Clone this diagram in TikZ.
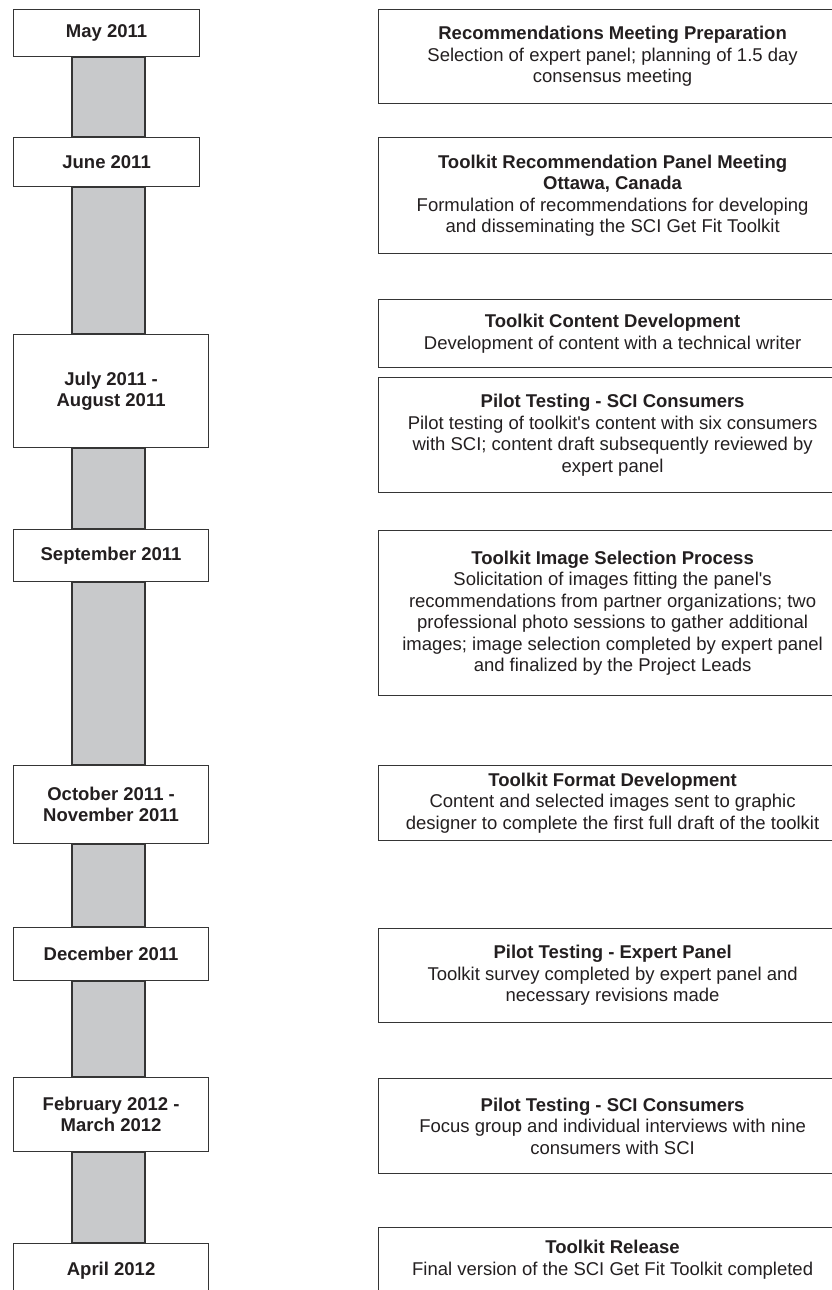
\documentclass[tikz,border=0pt]{standalone}
\usepackage{fontspec}
\setmainfont{Liberation Sans}
\usetikzlibrary{backgrounds}
\definecolor{boxline}{HTML}{353535}
\definecolor{barfill}{HTML}{C8C9CB}
\definecolor{ink}{HTML}{231F20}

\begin{document}
\begin{tikzpicture}[x=1pt,y=-1pt,
  datebox/.style={draw=boxline,line width=1.2pt,fill=white,anchor=north west,
    align=center,inner sep=0pt,text=ink,
    font=\fontsize{18.5}{21.5}\selectfont\bfseries},
  stepbox/.style={draw=boxline,line width=1.2pt,fill=white,anchor=north west,
    align=center,inner sep=0pt,minimum width=468pt,text=ink,
    font=\fontsize{18.5}{21.5}\selectfont},
  barseg/.style={draw=boxline,line width=1.2pt,fill=barfill}]
\useasboundingbox (0,0) rectangle (832,1290);
\clip (0,0) rectangle (832,1290);
\pgfmathsetmacro\barl{72}
\pgfmathsetmacro\barr{145}

% dates
\node[datebox,minimum width=186pt,minimum height=47pt] (may) at (13,9) {May 2011};
\node[datebox,minimum width=186pt,minimum height=49pt] (june) at (13,137) {June 2011};
\node[datebox,minimum width=195pt,minimum height=113pt] (julaug) at (13,334) {July 2011 -\\August 2011};
\node[datebox,minimum width=195pt,minimum height=52pt] (sept) at (13,529) {September 2011};
\node[datebox,minimum width=195pt,minimum height=78pt] (octnov) at (13,765) {October 2011 -\\November 2011};
\node[datebox,minimum width=195pt,minimum height=53pt] (dec) at (13,927) {December 2011};
\node[datebox,minimum width=195pt,minimum height=74pt] (febmar) at (13,1077) {February 2012 -\\March 2012};
\node[datebox,minimum width=195pt,minimum height=54pt] (april) at (13,1243) {April 2012};

% steps
\node[stepbox,minimum height=94pt] (prep) at (378,9)
  {\textbf{Recommendations Meeting Preparation}\\Selection of expert panel; planning of 1.5 day\\consensus meeting};
\node[stepbox,minimum height=116pt] (panel) at (378,137)
  {\textbf{Toolkit Recommendation Panel Meeting}\\\textbf{Ottawa, Canada}\\Formulation of recommendations for developing\\and disseminating the SCI Get Fit Toolkit};
\node[stepbox,minimum height=68pt] (content) at (378,299)
  {\textbf{Toolkit Content Development}\\Development of content with a technical writer};
\node[stepbox,minimum height=115pt] (pilotA) at (378,377)
  {\textbf{Pilot Testing - SCI Consumers}\\Pilot testing of toolkit\textquotesingle s content with six consumers\\with SCI; content draft subsequently reviewed by\\expert panel};
\node[stepbox,minimum height=165pt] (images) at (378,530)
  {\textbf{Toolkit Image Selection Process}\\Solicitation of images fitting the panel\textquotesingle s\\recommendations from partner organizations; two\\professional photo sessions to gather additional\\images; image selection completed by expert panel\\and finalized by the Project Leads};
\node[stepbox,minimum height=75pt] (format) at (378,765)
  {\textbf{Toolkit Format Development}\\Content and selected images sent to graphic\\designer to complete the first full draft of the toolkit};
\node[stepbox,minimum height=94pt] (expert) at (378,928)
  {\textbf{Pilot Testing - Expert Panel}\\Toolkit survey completed by expert panel and\\necessary revisions made};
\node[stepbox,minimum height=95pt] (pilotB) at (378,1078)
  {\textbf{Pilot Testing - SCI Consumers}\\Focus group and individual interviews with nine\\consumers with SCI};
\node[stepbox,minimum height=64pt] (release) at (378,1227)
  {\textbf{Toolkit Release}\\Final version of the SCI Get Fit Toolkit completed};

\begin{scope}[on background layer]
\foreach \a/\b in {may/june,june/julaug,julaug/sept,sept/octnov,octnov/dec,dec/febmar,febmar/april} {
  \draw[barseg] (\barl,0 |- \a.south) rectangle (\barr,0 |- \b.north);
}
\end{scope}
\end{tikzpicture}
\end{document}
